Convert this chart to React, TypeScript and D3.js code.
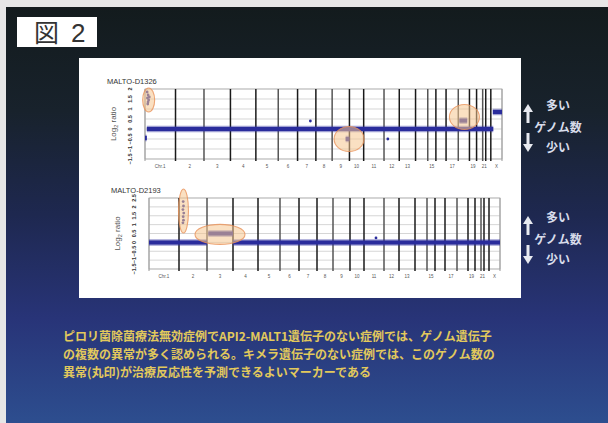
import React from 'react';
import * as d3 from 'd3';

// chromosome order and relative span along the x axis
const chromNames = ['1', '2', '3', '4', '5', '6', '7', '8', '9', '10', '11', '12', '13', '14', '15', '16', '17', '18', '19', '20', '21', '22', 'X'];
const chromSpan = [30, 28, 26, 25, 22, 19, 18, 16, 17, 14, 20, 15, 16, 12, 8, 10, 12, 11, 7, 6, 3, 5, 11];
const labelledChroms = ['1', '2', '3', '4', '5', '6', '7', '8', '9', '10', '11', '12', '13', '15', '17', '19', '21', 'X'];

const topTicks = [-1.5, -1, -0.5, 0, 0.5, 1, 1.5, 2];
const bottomTicks = [-1.5, -1, -0.5, 0, 0.5, 1, 1.5, 2, 2.5];

// [startChrom, startFrac, endChrom, endFrac, log2 ratio]
const topTrack: [string, number, string, number, number][] = [
    ['1', 0, '1', 0.06, -0.45],
    ['1', 0.06, 'X', 0.22, 0],
    ['X', 0.18, 'X', 1, 0.85],
    ['9', 0.78, '9', 1, -0.5],
    ['18', 0.1, '18', 0.8, 0.42],
];
const bottomTrack: [string, number, string, number, number][] = [
    ['1', 0, '2', 1, 0],
    ['3', 0.05, '3', 1, 0.5],
    ['4', 0, 'X', 1, 0],
];

// [chrom, frac, log2 ratio]
const topPoints: [string, number, number][] = [
    ['1', 0.07, 1.85], ['1', 0.1, 1.7], ['1', 0.08, 1.55], ['1', 0.12, 1.45],
    ['1', 0.1, 1.35], ['1', 0.14, 1.6], ['1', 0.09, 1.25],
    ['7', 0.7, 0.4], ['12', 0.25, -0.5],
];
const bottomPoints: [string, number, number][] = [
    ['2', 0.15, 2.3], ['2', 0.16, 2.05], ['2', 0.14, 1.85], ['2', 0.17, 1.65],
    ['2', 0.15, 1.45], ['2', 0.16, 1.25], ['2', 0.14, 1.1],
    ['11', 0.6, 0.25],
];

// circled regions: [chrom, frac, log2 ratio, rx, ry]
const topCircles: [string, number, number, number, number][] = [
    ['1', 0.12, 1.45, 6, 12],
    ['9', 0.98, -0.5, 15, 12.5],
    ['18', 0.55, 0.6, 15, 12.5],
];
const bottomCircles: [string, number, number, number, number][] = [
    ['2', 0.16, 1.77, 5, 22],
    ['3', 0.5, 0.45, 25, 10],
];

const noteLines = [
    'ピロリ菌除菌療法無効症例でAPI2-MALT1遺伝子のない症例では、ゲノム遺伝子',
    'の複数の異常が多く認められる。キメラ遺伝子のない症例では、このゲノム数の',
    '異常(丸印)が治療反応性を予測できるよいマーカーである',
];

const offsets = Array.from(d3.cumsum([0, ...chromSpan]));
const gpos = (c: string, f: number) => {
    const i = chromNames.indexOf(c);
    return offsets[i] + f * chromSpan[i];
};

const jp = '"Noto Sans CJK JP", "Noto Sans", sans-serif';
const sans = 'Arial, "Liberation Sans", sans-serif';

interface GenomeProps {
    title: string;
    x0: number; x1: number; y0: number; y1: number;
    ticks: number[];
    track: [string, number, string, number, number][];
    points: [string, number, number][];
    circles: [string, number, number, number, number][];
}

const GenomePlot: React.FC<GenomeProps> = ({ title, x0, x1, y0, y1, ticks, track, points, circles }) => {
    const x = d3.scaleLinear().domain([0, offsets[offsets.length - 1]]).range([x0, x1]);
    const y = d3.scaleLinear().domain([ticks[0], ticks[ticks.length - 1]]).range([y1, y0]);
    const fmt = d3.format('');

    return (
        <g>
            <text x={x0 - 38} y={y0 - 5} fontSize={7.5} fill="#333" fontFamily={sans}>{title}</text>
            <rect x={x0} y={y0} width={x1 - x0} height={y1 - y0} fill="#fff" stroke="#aaa" strokeWidth={0.8} />
            {ticks.map(t => (
                <line key={t} x1={x0} x2={x1} y1={y(t)} y2={y(t)} stroke="#c4c4c4" strokeWidth={0.7} />
            ))}
            {ticks.map(t => (
                <text key={'l' + t} transform={`translate(${x0 - 13},${y(t)}) rotate(-90)`}
                    textAnchor="middle" fontSize={5.5} fontWeight="bold" fill="#333" fontFamily={sans}>{fmt(t)}</text>
            ))}
            <text transform={`translate(${x0 - 29},${(y0 + y1) / 2}) rotate(-90)`} textAnchor="middle"
                fontSize={8} fill="#555" fontFamily={sans}>Log<tspan fontSize={5.5} dy={1.5}>2</tspan><tspan dy={-1.5}> ratio</tspan></text>
            {offsets.map((o, i) => (
                <line key={'b' + i} x1={x(o)} x2={x(o)} y1={y0} y2={y1 + 2}
                    stroke={i === 0 || i === offsets.length - 1 ? '#999' : (i % 3 === 2 ? '#555' : '#1a1a1a')}
                    strokeWidth={i === 0 || i === offsets.length - 1 ? 1 : 1.5} />
            ))}
            {labelledChroms.map(c => (
                <text key={'c' + c} x={x(gpos(c, 0.5))} y={y1 + 9} textAnchor="middle" fontSize={4.5}
                    fill="#555" fontFamily={sans}>{c === '1' ? 'Chr.1' : c}</text>
            ))}
            {track.map((s, i) => (
                <g key={'s' + i}>
                    <line x1={x(gpos(s[0], s[1]))} x2={x(gpos(s[2], s[3]))} y1={y(s[4])} y2={y(s[4])}
                        stroke="#2c2ea0" strokeWidth={6.5} opacity={0.45} />
                    <line x1={x(gpos(s[0], s[1]))} x2={x(gpos(s[2], s[3]))} y1={y(s[4])} y2={y(s[4])}
                        stroke="#2a2c9c" strokeWidth={4} />
                </g>
            ))}
            {points.map((p, i) => (
                <circle key={'p' + i} cx={x(gpos(p[0], p[1]))} cy={y(p[2])} r={1.4} fill="#2a2c9c" />
            ))}
            {circles.map((c, i) => (
                <ellipse key={'e' + i} cx={x(gpos(c[0], c[1]))} cy={y(c[2])} rx={c[3]} ry={c[4]}
                    fill="#f6c690" fillOpacity={0.55} stroke="#e8925a" strokeWidth={1.1} strokeOpacity={0.8} />
            ))}
        </g>
    );
};

const Legend: React.FC<{ cx: number; cy: number }> = ({ cx, cy }) => (
    <g fontFamily={jp} fontWeight="bold" fontSize={12} fill="#d8dcea">
        <path d={`M${cx - 30},${cy - 24} l-5,8 h3.5 v11 h3 v-11 h3.5 z`} fill="#e8eaf0" />
        <path d={`M${cx - 30},${cy + 24} l-5,-8 h3.5 v-11 h3 v11 h3.5 z`} fill="#e8eaf0" />
        <text x={cx} y={cy - 18} textAnchor="middle">多い</text>
        <text x={cx} y={cy + 4} textAnchor="middle">ゲノム数</text>
        <text x={cx} y={cy + 24} textAnchor="middle">少い</text>
    </g>
);

const App: React.FC = () => {
    const width = 608;
    const height = 423;
    return (
        <svg width={width} height={height} style={{ position: 'absolute', left: 0, top: 0, display: 'block' }}>
            <defs>
                <linearGradient id="bg" x1="0" y1="0" x2="0" y2="1">
                    <stop offset="0" stopColor="#131b1d" />
                    <stop offset="0.25" stopColor="#18222c" />
                    <stop offset="0.5" stopColor="#1e2850" />
                    <stop offset="0.75" stopColor="#283478" />
                    <stop offset="1" stopColor="#2d4e8f" />
                </linearGradient>
            </defs>
            <rect width={width} height={height} fill="#e6e6e6" />
            <rect x={6} y={7} width={width - 6} height={height - 7} fill="url(#bg)" />
            <rect x={17} y={17} width={80} height={30} fill="#fff" />
            <text x={34} y={42} fontSize={25} fill="#333" fontFamily={jp}>図</text>
            <text x={71} y={42} fontSize={26} fill="#333" fontFamily={sans}>2</text>
            <rect x={79} y={58} width={442} height={240} fill="#fff" />
            <GenomePlot title="MALTO-D1326" x0={145} x1={502} y0={89} y1={159}
                ticks={topTicks} track={topTrack} points={topPoints} circles={topCircles} />
            <GenomePlot title="MALTO-D2193" x0={149} x1={500} y0={198} y1={269}
                ticks={bottomTicks} track={bottomTrack} points={bottomPoints} circles={bottomCircles} />
            <Legend cx={558} cy={128} />
            <Legend cx={558} cy={240} />
            <g fontFamily={jp} fontWeight="bold" fontSize={12} fill="#e2c95c">
                {noteLines.map((l, i) => (
                    <text key={i} x={63} y={341 + i * 18}>{l}</text>
                ))}
            </g>
        </svg>
    );
};

export default App;
